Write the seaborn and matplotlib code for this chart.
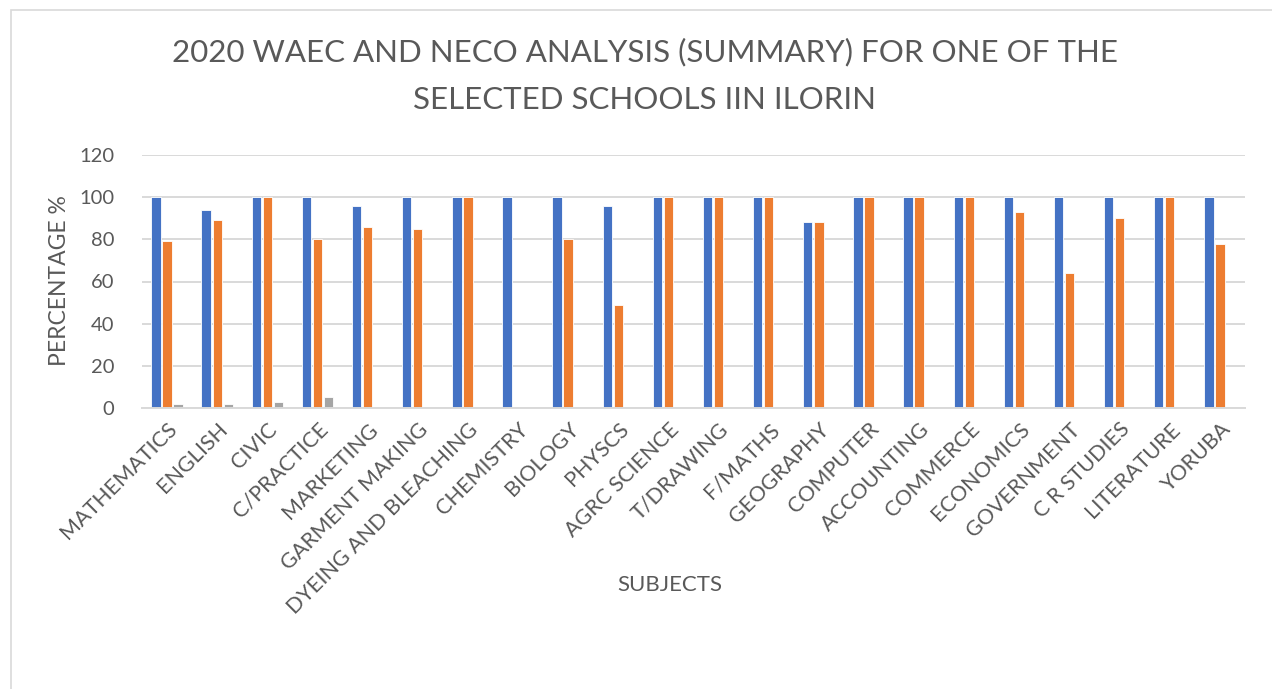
import matplotlib
matplotlib.use("Agg")
import matplotlib.pyplot as plt
import seaborn as sns
import pandas as pd
from matplotlib.patches import Rectangle

subjects = ["MATHEMATICS", "ENGLISH", "CIVIC", "C/PRACTICE", "MARKETING", "GARMENT MAKING",
            "DYEING AND BLEACHING", "CHEMISTRY", "BIOLOGY", "PHYSCS", "AGRC SCIENCE", "T/DRAWING",
            "F/MATHS", "GEOGRAPHY", "COMPUTER", "ACCOUNTING", "COMMERCE", "ECONOMICS",
            "GOVERNMENT", "C R STUDIES", "LITERATURE", "YORUBA"]
series_names = ["Series1", "Series2", "Series3"]
series1 = [100, 94, 100, 100, 96, 100, 100, 100, 100, 96, 100, 100, 100, 88, 100, 100, 100, 100, 100, 100, 100, 100]
series2 = [79, 89, 100, 80, 86, 85, 100, 0, 80, 49, 100, 100, 100, 88, 100, 100, 100, 93, 64, 90, 100, 78]
series3 = [2, 2, 3, 5, 0, 0, 0, 0, 0, 0, 0, 0, 0, 0, 0, 0, 0, 0, 0, 0, 0, 0]
yticks = [0, 20, 40, 60, 80, 100, 120]

colors = ["#4472C4", "#ED7D31", "#A5A5A5"]
text_color = "#595959"

rows = []
for name, vals in zip(series_names, [series1, series2, series3]):
    for s, v in zip(subjects, vals):
        rows.append({"Subject": s, "Series": name, "Value": v})
df = pd.DataFrame(rows)

sns.set_theme(style="white")
plt.rcParams["font.family"] = ["Lato", "DejaVu Sans"]

fig = plt.figure(figsize=(12.72, 6.89), dpi=100)
ax = fig.add_axes([142/1272, 1-408/689, (1245-142)/1272, (408-155)/689])

sns.barplot(data=df, x="Subject", y="Value", hue="Series", order=subjects,
            hue_order=series_names, palette=colors, width=0.66, gap=0.15,
            ax=ax, legend=False, edgecolor="white", linewidth=0.6, saturation=1)

ax.set_ylim(0, 120)
ax.set_xlim(-0.5, len(subjects) - 0.5)
ax.set_yticks(yticks)
ax.yaxis.grid(True, color="#D9D9D9", linewidth=1.4)
ax.set_axisbelow(True)
for sp in ["top", "right", "left"]:
    ax.spines[sp].set_visible(False)
ax.spines["bottom"].set_color("#D9D9D9")
ax.spines["bottom"].set_linewidth(1.4)
ax.tick_params(axis="both", length=0, colors=text_color)
ax.tick_params(axis="x", labelsize=15.5, pad=8)
ax.tick_params(axis="y", labelsize=14.5, pad=20)
for lbl in ax.get_xticklabels():
    lbl.set_rotation(45)
    lbl.set_ha("right")
    lbl.set_va("top")
    lbl.set_rotation_mode("anchor")
ax.set_xlabel("SUBJECTS", color=text_color, fontsize=16)
ax.set_ylabel("PERCENTAGE %", color=text_color, fontsize=16.5)
ax.xaxis.set_label_coords((670 - 142) / 1103, (408 - 585) / 253)
ax.yaxis.set_label_coords((60 - 142) / 1103, (408 - 281) / 253)
ax.xaxis.label.set_va("center")
ax.yaxis.label.set_va("center")

fig.text(0.507, 1 - 76 / 689,
         "2020 WAEC AND NECO ANALYSIS (SUMMARY) FOR ONE OF THE\nSELECTED SCHOOLS IIN ILORIN",
         ha="center", va="center", fontsize=22.5, color=text_color, linespacing=1.85)

fig.patches.append(Rectangle((11/1272, -0.05), 1.2, 1-10/689 + 0.05, transform=fig.transFigure,
                             fill=False, edgecolor="#D9D9D9", linewidth=1.2))

fig.savefig("out.png", dpi=100, facecolor="white")
